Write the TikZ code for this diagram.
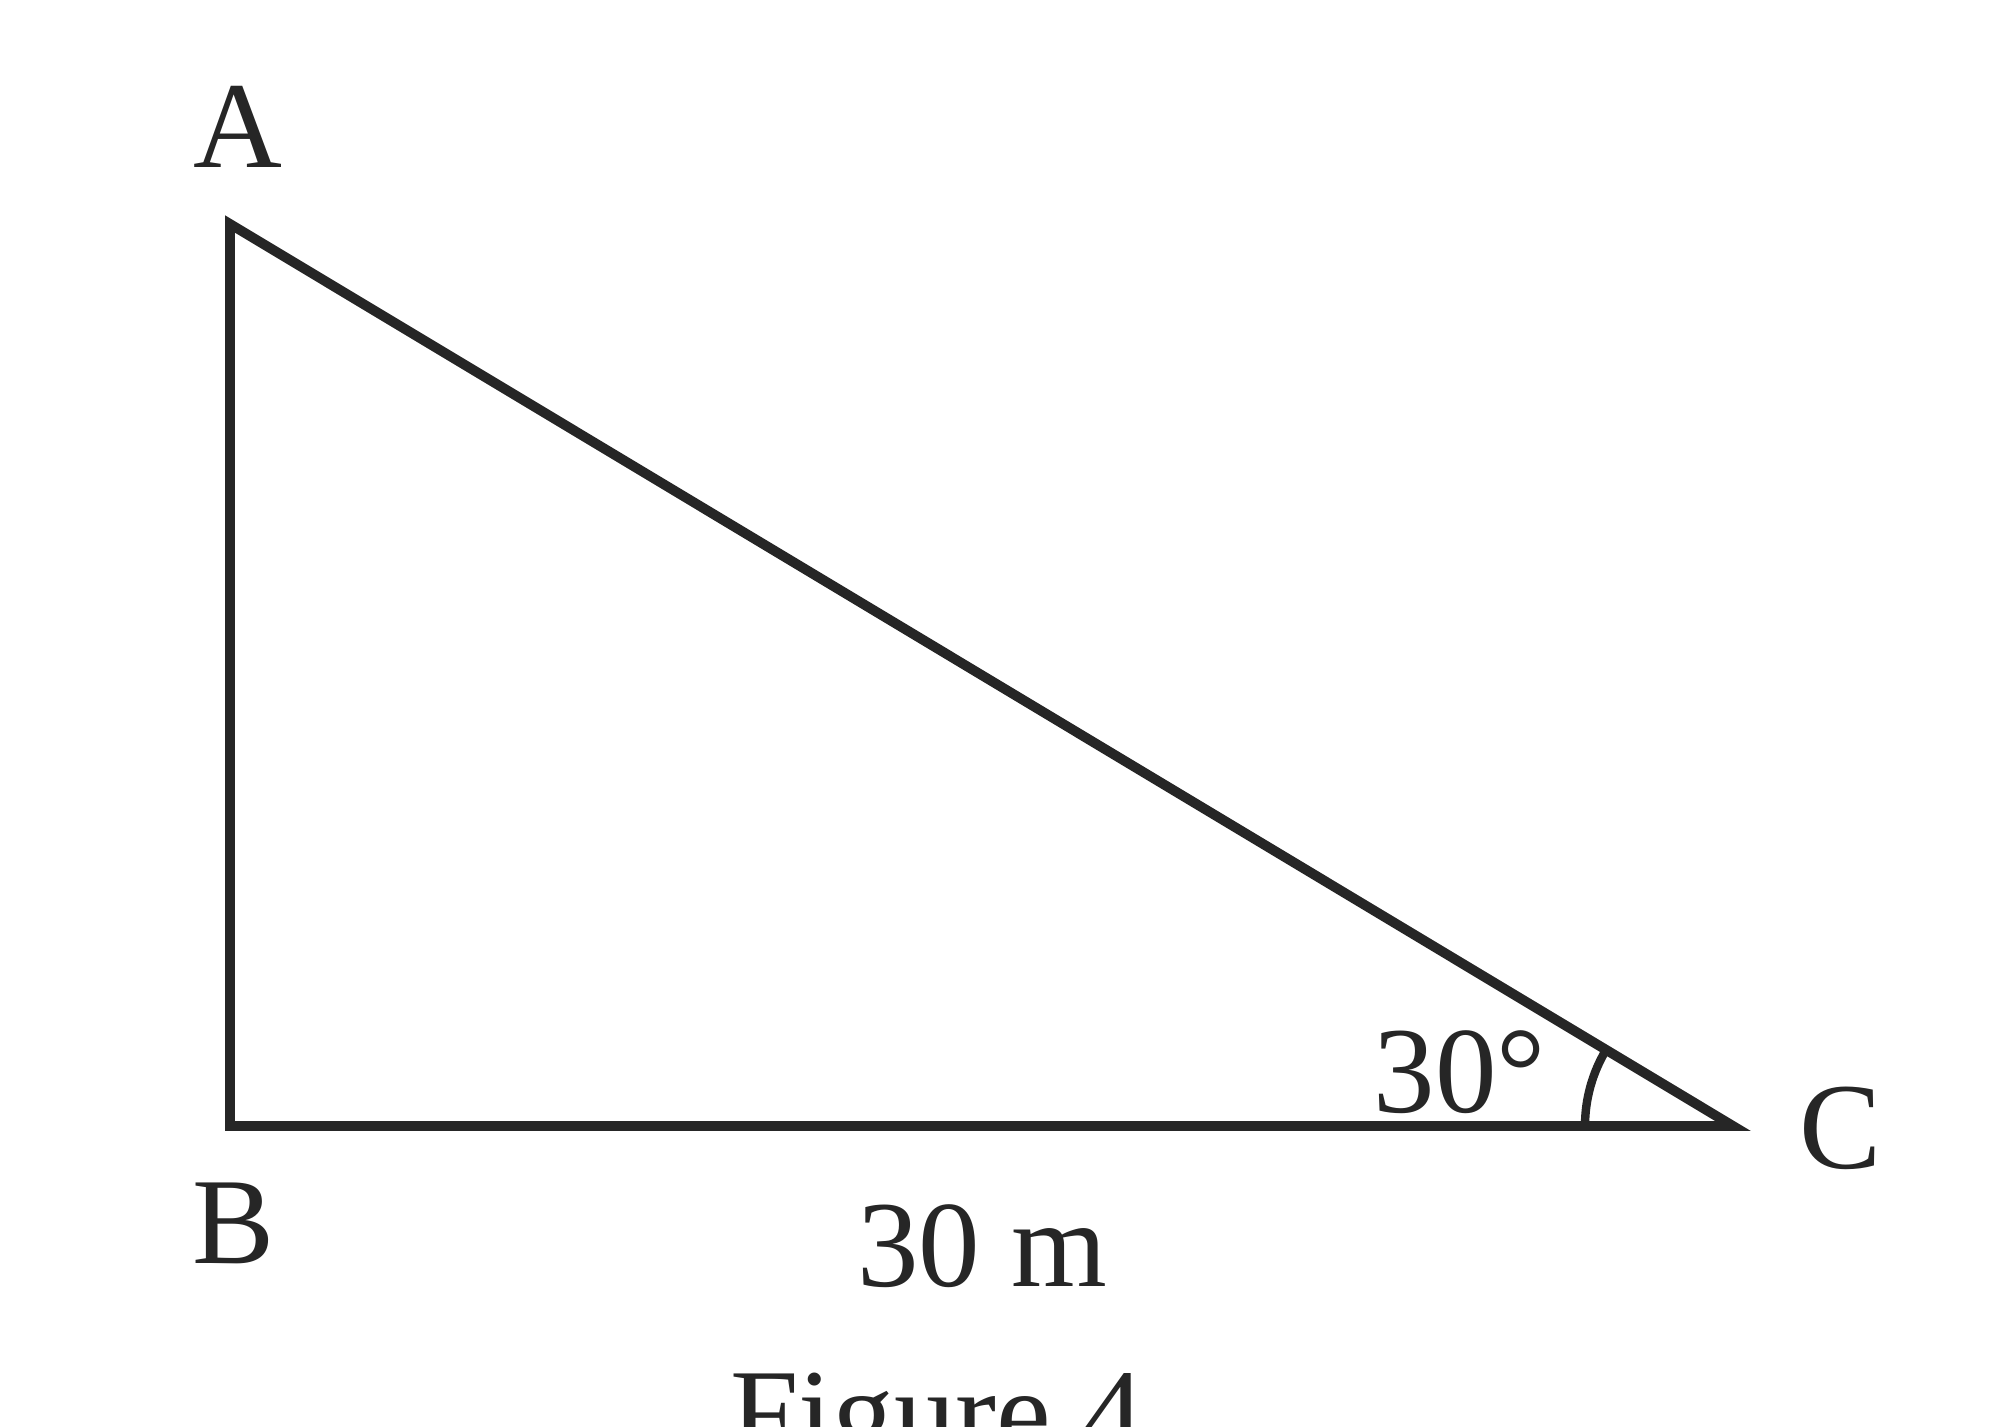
\documentclass[tikz,border=0pt]{standalone}
\usepackage{fontspec}
\setmainfont{Liberation Serif}
\usetikzlibrary{calc}
\begin{document}
\begin{tikzpicture}[x=0.01cm,y=0.01cm,
  edge/.style={line width=2.8pt,draw=black!85,line join=miter},
  lbl/.style={inner sep=0pt,anchor=base,font=\fontsize{35}{40}\selectfont,text=black!85}]
\useasboundingbox (0,0) rectangle (2000,1426);
\clip (0,0) rectangle (2000,1426);
\coordinate (A) at (230,1202);
\coordinate (B) at (230,300);
\coordinate (C) at (1733,300);
\draw[edge] (A) -- (B) -- (C) -- cycle;
\draw[line width=2.4pt,draw=black!85] ($(C)+(-148,0)$) arc[start angle=180,end angle=149,radius=1.48cm];
\node[lbl] (la) at (238,1258) {A};
\node[lbl] (lb) at (234,163) {B};
\node[lbl] (lc) at (1841,258) {C};
\node[lbl] (len) at (982,140) {30 m};
\node[lbl] (ang) at (1460,314) {30°};
\node[lbl] (fig) at (937,-28) {Figure 4};
\end{tikzpicture}
\end{document}
